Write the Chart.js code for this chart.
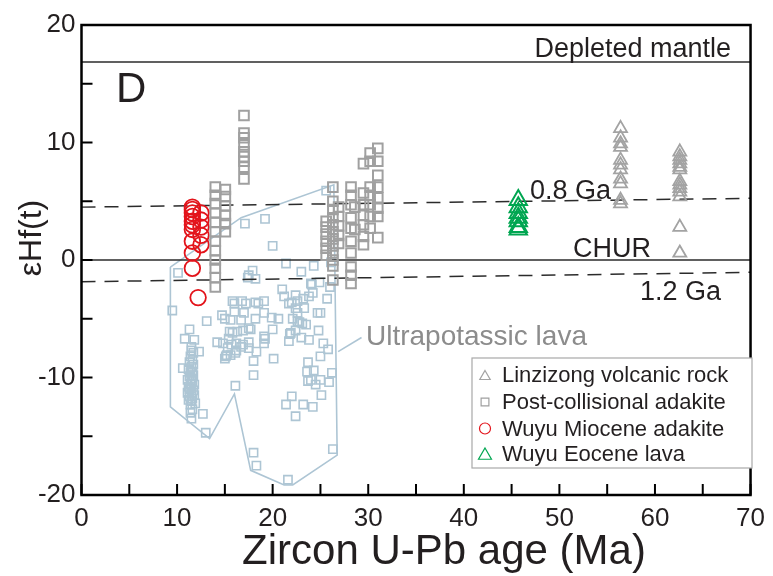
<!DOCTYPE html>
<html>
<head>
<meta charset="utf-8">
<title>Zircon U-Pb age vs εHf(t)</title>
<script src="https://cdn.jsdelivr.net/npm/chart.js"></script>
<style>
  body { margin: 0; background: #fff; }
  canvas { display: block; }
</style>
</head>
<body>
<canvas id="hfChart" width="773" height="576"></canvas>
<script>
// Linzizong volcanic rock
var lzAge = [56.4, 56.4, 56.4, 56.4, 56.4, 56.4, 56.4, 56.4, 56.4, 56.4, 56.4,
             62.6, 62.6, 62.6, 62.6, 62.6, 62.6, 62.6, 62.6, 62.6, 62.6, 62.6, 62.6, 62.6];
var lzHf  = [11.2, 10.4, 9.9, 9.6, 8.5, 8.1, 7.7, 6.9, 6.5, 5.1, 4.8,
             9.2, 8.8, 8.5, 8.2, 7.9, 7.7, 6.7, 6.4, 6.1, 5.8, 5.4, 2.8, 0.6];

// Post-collisional adakite
var adkAge = [14.0, 14.0, 14.0, 14.0, 14.0, 14.0, 14.0, 14.0, 14.0, 14.0, 14.0, 14.0,
              15.05, 15.05, 15.05, 15.05, 15.05, 15.05,
              17.0, 17.0, 17.0, 17.0, 17.0, 17.0, 17.0, 17.0, 17.0,
              26.3, 26.3, 26.3, 26.3, 26.3, 26.3, 26.3, 26.3, 26.3, 26.3, 26.3, 26.3,
              25.6, 25.6, 25.6, 25.6, 25.6, 25.6,
              26.9, 26.9, 26.9, 26.9, 26.9,
              28.2, 28.2, 28.2, 28.2, 28.2, 28.2, 28.2, 28.2, 28.2, 28.2,
              28.6, 28.6,
              29.5, 29.5, 29.5, 29.5, 29.5, 29.5, 29.5,
              30.2, 30.2, 30.2, 30.2, 30.2, 30.2, 30.2,
              31.0, 31.0, 31.0, 31.0, 31.0, 31.0, 31.0, 31.0];
var adkHf  = [6.2, 5.5, 4.8, 4.0, 3.2, 2.4, 1.6, 0.8, 0.0, -0.7, -1.5, -2.3,
              6.0, 5.4, 4.6, 3.8, 3.1, 2.4,
              12.3, 10.8, 10.4, 9.8, 9.2, 8.8, 8.4, 7.9, 6.9,
              6.2, 5.0, 4.3, 3.6, 3.0, 2.4, 1.8, 1.2, 0.6, 0.0, -0.5, -1.7,
              3.3, 2.8, 2.2, 1.6, 1.0, 0.4,
              4.5, 3.7, 2.9, 2.1, 1.4,
              6.2, 5.5, 4.7, 3.6, 2.7, 1.6, 0.6, -0.6, -1.3, -2.0,
              4.5, 2.6,
              8.2, 5.7, 4.7, 3.8, 3.0, 2.0, 1.3,
              9.1, 8.4, 6.2, 5.5, 4.7, 3.7, 2.7,
              9.5, 8.4, 7.2, 6.2, 5.3, 4.4, 3.7, 1.9];

// Wuyu Miocene adakite
var mioAge = [11.6, 11.6, 11.6, 11.6, 11.6, 11.6, 11.6, 11.6, 11.6, 11.6,
              12.5, 12.5, 12.5, 12.5, 12.5, 12.2];
var mioHf  = [4.5, 4.3, 4.0, 3.7, 3.3, 3.0, 2.6, 1.6, 0.6, -0.7,
              4.0, 3.4, 2.8, 2.1, 1.3, -3.2];

// Wuyu Eocene lava
var eocAge = [45.7, 45.7, 45.7, 45.7, 45.7, 45.7, 45.7];
var eocHf  = [5.1, 4.5, 4.0, 3.6, 3.3, 2.8, 2.6];

// Ultrapotassic lava
var upAge = [10.1, 17.1, 19.2, 20.0, 21.4, 23.0, 24.3, 25.6, 26.1, 24.9, 26.0, 17.5, 17.9, 18.2, 17.4,
             24.1, 21.0, 9.5, 11.3, 10.8, 11.8, 12.3, 11.5, 10.6, 13.1, 14.7, 15.0, 15.8, 16.0, 15.6,
             16.8, 17.2, 17.0, 16.7, 16.0, 15.5, 15.8, 15.4, 16.3, 16.9, 17.5, 17.7, 14.2, 14.8, 15.7,
             16.2, 16.7, 17.5, 18.3, 15.2, 16.1, 15.0, 18.0, 18.0, 16.1, 15.3, 15.1, 16.2, 15.6, 16.9,
             19.1, 17.5, 18.2, 19.1, 18.2, 19.1, 18.5, 19.9, 20.6, 20.1, 19.2, 20.0, 19.1, 21.2, 21.7,
             22.4, 22.6, 23.2, 23.8, 24.2, 24.0, 25.7, 22.0, 23.3, 22.4, 22.6, 24.7, 25.0, 22.1, 22.6,
             23.1, 23.5, 24.8, 22.4, 21.9, 23.0, 21.7, 23.8, 25.3, 25.8, 25.0, 23.7, 23.6, 24.3, 24.0,
             25.0, 24.5, 26.2, 25.9, 25.1, 23.7, 22.0, 21.4, 23.2, 24.2, 22.4, 26.3, 18.0, 18.3, 21.6,
             12.7, 13.0, 11.5, 11.6, 21.8, 22.8,
             11.5, 11.7, 11.4, 11.6, 11.3, 11.7, 11.5, 11.2, 11.6, 11.4, 11.7, 11.3, 11.5, 11.1, 11.6,
             11.4, 11.8, 11.2, 11.5, 11.3, 11.7, 11.1, 11.5, 11.8, 11.3, 11.6, 11.2, 11.5, 11.4, 11.9, 11.4];
var upHf  = [-1.1, 3.1, 3.5, 1.2, -0.3, -1.0, -0.5, 5.9, -0.2, -1.9, -2.3, -1.3, -0.9, -1.6, -1.5,
             -2.1, -2.5, -4.3, -5.9, -6.7, -6.8, -7.8, -7.7, -9.2, -5.2, -4.7, -5.0, -3.5, -4.4, -5.1,
             -3.5, -3.7, -4.5, -5.1, -3.7, -6.1, -6.2, -6.7, -6.1, -6.0, -5.8, -5.9, -7.0, -7.1, -7.2,
             -7.1, -7.4, -7.5, -7.8, -8.1, -7.9, -8.4, -8.6, -9.8, -10.7, -7.5, -8.2, -7.7, -8.1, -7.2,
             -7.1, -7.0, -3.6, -3.5, -5.0, -4.5, -3.7, -4.9, -5.0, -8.4, -6.7, -5.9, -6.5, -3.1, -3.7,
             -3.0, -3.5, -3.3, -3.1, -2.8, -2.0, -3.3, -3.6, -4.1, -4.1, -4.5, -4.5, -4.5, -5.0, -5.2,
             -5.4, -5.5, -6.0, -6.0, -6.2, -6.6, -6.9, -6.8, -7.1, -7.6, -8.2, -8.7, -9.5, -9.4, -10.2,
             -10.2, -10.6, -9.6, -10.4, -11.5, -10.3, -11.6, -12.3, -12.3, -12.5, -13.3, -16.1, -16.4, -17.5, -18.7,
             -13.1, -14.7, -13.5, -12.7, -6.3, -5.3,
             -7.4, -7.9, -8.2, -8.5, -8.7, -8.9, -9.1, -9.3, -9.5, -9.6, -9.8, -9.9, -10.1, -10.2, -10.3,
             -10.5, -10.6, -10.8, -10.9, -11.0, -11.1, -11.3, -11.4, -11.5, -11.6, -11.8, -11.9, -12.0, -12.3, -12.2, -13.0];

// outline of the ultrapotassic field
var fieldAge = [9.3, 16.7, 26.4, 26.75, 22.1, 21.2, 17.7, 16.0, 13.4, 9.3, 9.3];
var fieldHf  = [-0.6, 3.6, 6.4, -16.6, -19.15, -19.15, -17.9, -11.4, -15.2, -12.5, -0.6];
var leaderAge = [26.85, 29.3];
var leaderHf  = [-7.8, -6.6];

// evolution lines
var dmHf = 16.85;
var churHf = 0;
var ga08Hf = [4.5, 5.25];
var ga12Hf = [-1.85, -1.05];
var lineAge = [0, 70];

var xTicks = [0, 10, 20, 30, 40, 50, 60, 70];
var yTicks = [-20, -10, 0, 10, 20];

var FONT = "'Liberation Sans', Arial, sans-serif";
var TEXT = '#231f20';
var UP_BLUE = '#adc5d4';

function pts(xs, ys) {
  return xs.map(function (x, i) { return { x: x, y: ys[i] }; });
}
function flat(v) {
  return lineAge.map(function (x) { return { x: x, y: v }; });
}

function refLine(data, dash, width) {
  return {
    label: '', data: data, showLine: true, pointRadius: 0,
    borderColor: '#2b2b2b', borderWidth: width, borderDash: dash, fill: false
  };
}

var series = [
  { label: 'Linzizong volcanic rock', data: pts(lzAge, lzHf), pointStyle: 'triangle',
    pointRadius: 7.5, borderColor: '#a3a3a3', borderWidth: 1.8, legendRadius: 6 },
  { label: 'Post-collisional adakite', data: pts(adkAge, adkHf), pointStyle: 'rect',
    pointRadius: 6.8, borderColor: '#a0a0a0', borderWidth: 2, legendRadius: 5.5 },
  { label: 'Wuyu Miocene adakite', data: pts(mioAge, mioHf), pointStyle: 'circle',
    pointRadius: 7.8, borderColor: '#e3141b', borderWidth: 1.8, legendRadius: 5.5 },
  { label: 'Wuyu Eocene lava', data: pts(eocAge, eocHf), pointStyle: 'triangle',
    pointRadius: 10, borderColor: '#00a651', borderWidth: 2, legendRadius: 7.5 }
];

var datasets = series.map(function (s) {
  return {
    label: s.label, data: s.data, pointStyle: s.pointStyle, pointRadius: s.pointRadius,
    borderColor: s.borderColor, pointBorderColor: s.borderColor,
    backgroundColor: 'rgba(0,0,0,0)', pointBorderWidth: s.borderWidth, showLine: false
  };
});
datasets.push(refLine(flat(dmHf), [], 1.5));
datasets.push(refLine(flat(churHf), [], 1.5));
datasets.push(refLine(pts(lineAge, ga08Hf), [14, 9], 1.5));
datasets.push(refLine(pts(lineAge, ga12Hf), [14, 9], 1.5));
datasets.push({
  label: 'Ultrapotassic lava', data: pts(upAge, upHf), pointStyle: 'rect', pointRadius: 5.8,
  pointBorderColor: UP_BLUE, backgroundColor: 'rgba(0,0,0,0)', pointBorderWidth: 1.6, showLine: false
});
datasets.push({
  label: '', data: pts(fieldAge, fieldHf), showLine: true, pointRadius: 0,
  borderColor: UP_BLUE, borderWidth: 1.6, fill: false
});
datasets.push({
  label: '', data: pts(leaderAge, leaderHf), showLine: true, pointRadius: 0,
  borderColor: UP_BLUE, borderWidth: 1.6, fill: false
});

// frame, inward ticks, labels and legend
var decor = {
  id: 'decor',
  afterDraw: function (chart) {
    var ctx = chart.ctx, a = chart.chartArea;
    var xs = chart.scales.x, ys = chart.scales.y;
    ctx.save();
    ctx.strokeStyle = '#000';
    ctx.lineWidth = 2;
    xs.ticks.forEach(function (t) {
      var px = xs.getPixelForValue(t.value);
      ctx.beginPath(); ctx.moveTo(px, a.bottom); ctx.lineTo(px, a.bottom - 11); ctx.stroke();
    });
    ys.ticks.forEach(function (t) {
      var py = ys.getPixelForValue(t.value);
      ctx.beginPath(); ctx.moveTo(a.left, py); ctx.lineTo(a.left + 11, py); ctx.stroke();
    });
    ctx.lineWidth = 2.5;
    ctx.strokeRect(a.left, a.top, a.right - a.left, a.bottom - a.top);

    ctx.fillStyle = TEXT;
    ctx.textBaseline = 'alphabetic';
    ctx.font = '27px ' + FONT;
    ctx.textAlign = 'right';
    ctx.fillText('Depleted mantle', 731, ys.getPixelForValue(dmHf) - 5);
    ctx.textAlign = 'left';
    ctx.fillText('0.8 Ga', 530, 199);
    ctx.fillText('CHUR', 573, 257);
    ctx.fillText('1.2 Ga', 640, 300);
    ctx.font = '42px ' + FONT;
    ctx.fillText('D', 116, 102);
    ctx.font = '28px ' + FONT;
    ctx.fillStyle = '#8c8c8c';
    ctx.fillText('Ultrapotassic lava', 366, 345);

    // axis titles
    ctx.fillStyle = TEXT;
    ctx.font = '42px ' + FONT;
    ctx.textAlign = 'center';
    ctx.fillText('Zircon U-Pb age (Ma)', 444, 564);
    ctx.save();
    ctx.translate(41, 238);
    ctx.rotate(-Math.PI / 2);
    ctx.font = '32px ' + FONT;
    ctx.fillText('εHf(t)', 0, 0);
    ctx.restore();

    // legend box
    ctx.lineWidth = 1.2;
    ctx.strokeStyle = '#a8a8a8';
    ctx.fillStyle = '#fff';
    ctx.fillRect(472, 358, 280, 110);
    ctx.strokeRect(472, 358, 280, 110);
    var rows = [375, 402, 428.5, 454];
    series.forEach(function (s, i) {
      ctx.strokeStyle = s.borderColor;
      ctx.fillStyle = 'rgba(0,0,0,0)';
      Chart.helpers.drawPoint(ctx, {
        pointStyle: s.pointStyle, radius: s.legendRadius, rotation: 0, borderWidth: 1.6
      }, 485, rows[i] + (s.pointStyle === 'triangle' ? 1.5 : 0));
      ctx.fillStyle = TEXT;
      ctx.font = '22px ' + FONT;
      ctx.textAlign = 'left';
      ctx.textBaseline = 'middle';
      ctx.fillText(s.label, 502, rows[i] + 1);
    });
    ctx.restore();
  }
};

function tickLabel(list) {
  return function (v) { return list.indexOf(v) >= 0 ? String(v) : ''; };
}

new Chart(document.getElementById('hfChart'), {
  type: 'scatter',
  data: { datasets: datasets },
  options: {
    responsive: false,
    animation: false,
    layout: { padding: { top: 25, right: 19, left: 0, bottom: 0 } },
    plugins: { legend: { display: false }, tooltip: { enabled: false } },
    scales: {
      x: {
        type: 'linear', min: 0, max: 70,
        grid: { display: false, drawTicks: false },
        border: { display: false },
        ticks: { stepSize: 5, autoSkip: false, maxRotation: 0, padding: 8,
                 color: TEXT, font: { family: FONT, size: 26 }, callback: tickLabel(xTicks) },
        afterFit: function (s) { s.height = 81; }
      },
      y: {
        type: 'linear', min: -20, max: 20,
        grid: { display: false, drawTicks: false },
        border: { display: false },
        ticks: { stepSize: 5, autoSkip: false, padding: 6,
                 color: TEXT, font: { family: FONT, size: 26 }, callback: tickLabel(yTicks) },
        afterFit: function (s) { s.width = 81.5; }
      }
    }
  },
  plugins: [decor]
});
</script>
</body>
</html>
